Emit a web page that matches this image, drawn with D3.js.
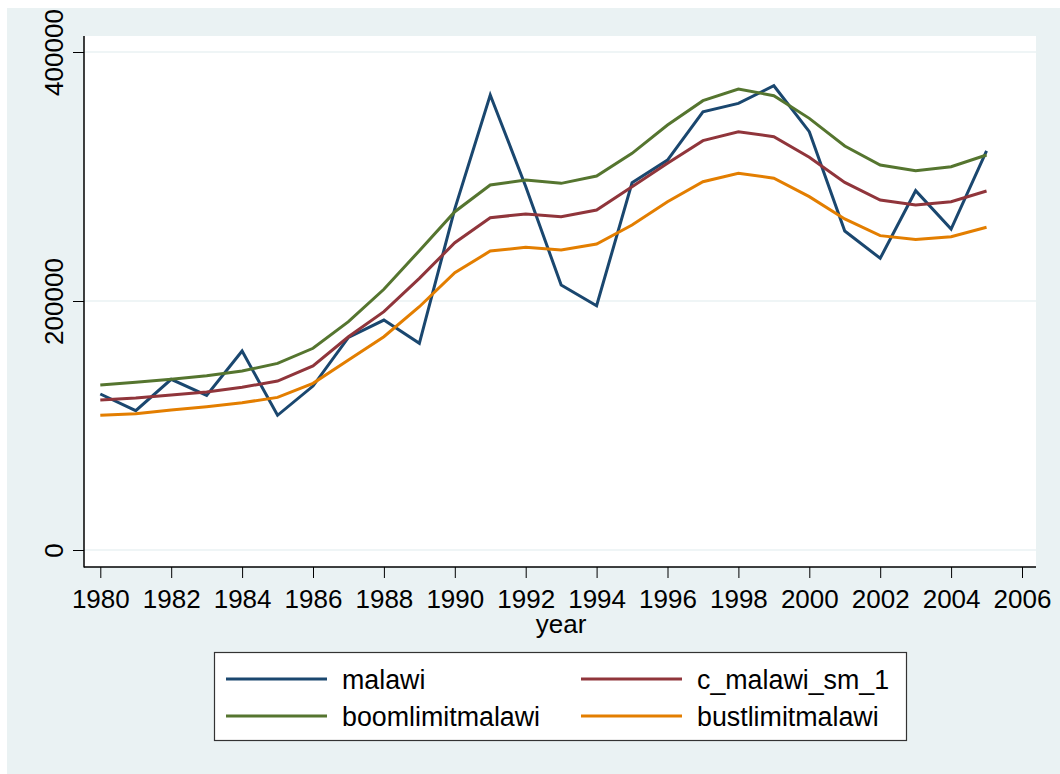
<!DOCTYPE html>
<html>
<head>
<meta charset="utf-8">
<script src="https://d3js.org/d3.v7.min.js"></script>
<style>
  body { margin: 0; background: #fff; }
  svg { display: block; font-family: "Liberation Sans", Arial, sans-serif; }
</style>
</head>
<body>
<script>

var w = 1060;
var h = 774;

// data
const years = d3.range(1980, 2006);
const malawi = [125300, 111900, 137100, 124200, 159800, 108200, 131700, 170800, 184700, 166000,
    274000, 365500, 292000, 212800, 196200, 295000, 313200, 352000, 358700, 372900,
    336000, 256200, 234300, 288600, 257800, 320500];
const smooth = [120500, 122100, 124500, 126900, 130700, 135700, 147800, 171300, 191400, 218200,
    246800, 266900, 269900, 267700, 273100, 291800, 310600, 328800, 336000, 332000,
    315400, 295300, 281100, 277100, 279800, 288400];
const boom = [132500, 134700, 137100, 140000, 143800, 149900, 162000, 183400, 209400, 240400,
    271700, 293200, 297200, 294500, 300400, 318600, 341400, 360900, 370300, 364900,
    346700, 324500, 309200, 304700, 307900, 317300];
const bust = [108200, 109500, 112400, 115100, 118300, 122600, 133900, 152600, 171300, 195400,
    222700, 240100, 243100, 241000, 245800, 261000, 279700, 295800, 302600, 298600,
    283800, 265900, 252500, 249500, 251600, 259200];

const xTicks = d3.range(1980, 2007, 2);
const yTicks = [0, 200000, 400000];

const series = [
    {name: "malawi", values: malawi, color: "#1a476f"},
    {name: "c_malawi_sm_1", values: smooth, color: "#90353b"},
    {name: "boomlimitmalawi", values: boom, color: "#55752f"},
    {name: "bustlimitmalawi", values: bust, color: "#e37e00"}
];

const bg = "#eaf2f3";
const plot = {left: 84, right: 1036, top: 36, bottom: 567};
const fs = 26;

const svg = d3.select("body").append("svg")
    .attr("width", w)
    .attr("height", h);

svg.append("rect")
    .attr("x", 7).attr("y", 8)
    .attr("width", w - 7).attr("height", h - 8)
    .attr("fill", bg);

svg.append("rect")
    .attr("x", plot.left).attr("y", plot.top)
    .attr("width", plot.right - plot.left).attr("height", plot.bottom - plot.top)
    .attr("fill", "#fff");

const xScale = d3.scaleLinear()
    .domain([1980, 2006])
    .range([100.3, 1022]);

const yScale = d3.scaleLinear()
    .domain([0, 400000])
    .range([550, 52]);

// gridlines
svg.append("g").selectAll("line")
    .data(yTicks)
    .enter().append("line")
    .attr("x1", plot.left).attr("x2", plot.right)
    .attr("y1", d => yScale(d)).attr("y2", d => yScale(d))
    .attr("stroke", bg)
    .attr("stroke-width", 1.6);

// axes
const xAxis = svg.append("g")
    .attr("transform", "translate(0," + plot.bottom + ")")
    .call(d3.axisBottom(xScale).tickValues(xTicks).tickFormat(d3.format("d"))
        .tickSize(11).tickSizeOuter(0).tickPadding(12));
xAxis.select(".domain").remove();
xAxis.selectAll("line").attr("stroke", "#000").attr("stroke-width", 1);
xAxis.selectAll("text").attr("font-size", fs).attr("fill", "#000")
    .attr("font-family", "Liberation Sans, Arial, sans-serif");

const yAxis = svg.append("g")
    .attr("transform", "translate(" + plot.left + ",0)")
    .call(d3.axisLeft(yScale).tickValues(yTicks).tickFormat(d3.format("d"))
        .tickSize(11).tickSizeOuter(0));
yAxis.select(".domain").remove();
yAxis.selectAll("line").attr("stroke", "#000").attr("stroke-width", 1);
yAxis.selectAll("text")
    .attr("font-size", fs).attr("fill", "#000")
    .attr("font-family", "Liberation Sans, Arial, sans-serif")
    .attr("text-anchor", "middle")
    .attr("dy", 0)
    .attr("x", 0)
    .attr("transform", "translate(-21,0) rotate(-90)");

// axis lines
svg.append("line")
    .attr("x1", plot.left).attr("x2", plot.left)
    .attr("y1", plot.top).attr("y2", plot.bottom + 0.5)
    .attr("stroke", "#000").attr("stroke-width", 1.5);
svg.append("line")
    .attr("x1", plot.left).attr("x2", plot.right)
    .attr("y1", plot.bottom).attr("y2", plot.bottom)
    .attr("stroke", "#000").attr("stroke-width", 1.5);

svg.append("text")
    .attr("x", (xScale(1980) + xScale(2006)) / 2)
    .attr("y", 633)
    .attr("text-anchor", "middle")
    .attr("font-size", fs)
    .text("year");

// lines
const line = d3.line()
    .x((d, i) => xScale(years[i]))
    .y(d => yScale(d));

svg.append("g").selectAll("path")
    .data(series)
    .enter().append("path")
    .attr("d", d => line(d.values))
    .attr("fill", "none")
    .attr("stroke", d => d.color)
    .attr("stroke-width", 3)
    .attr("stroke-linejoin", "miter");

// legend
const legend = svg.append("g");
legend.append("rect")
    .attr("x", 214.5).attr("y", 652.5)
    .attr("width", 692).attr("height", 88)
    .attr("fill", "#fff")
    .attr("stroke", "#333")
    .attr("stroke-width", 1.2);

const items = legend.selectAll("g.item")
    .data(series)
    .enter().append("g")
    .attr("class", "item")
    .attr("transform", (d, i) => "translate(" + (i % 2 == 0 ? 226 : 581) + "," + (i < 2 ? 679 : 716) + ")");

items.append("line")
    .attr("x1", 0).attr("x2", 101)
    .attr("stroke", d => d.color)
    .attr("stroke-width", 3);

items.append("text")
    .attr("x", 116)
    .attr("y", 9.5)
    .attr("font-size", 26.8)
    .text(d => d.name);

</script>
</body>
</html>
